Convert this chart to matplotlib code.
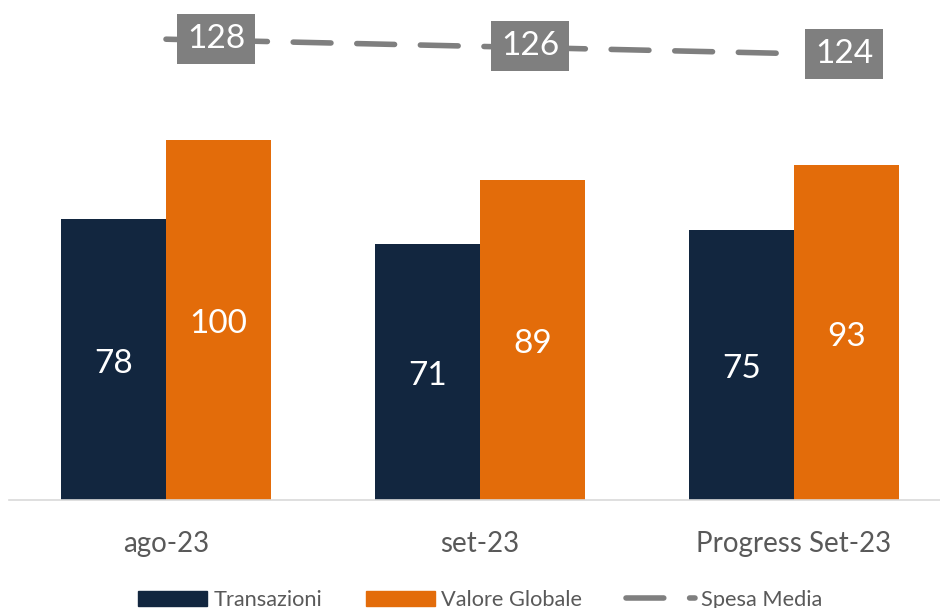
import matplotlib.pyplot as plt
import numpy as np
from matplotlib.lines import Line2D
from matplotlib.patches import Patch

# data
categories = ["ago-23", "set-23", "Progress Set-23"]
transazioni = [78, 71, 75]
valore_globale = [100, 89, 93]
spesa_media = [128, 126, 124]

navy = "#12263F"
orange = "#E36C0A"
grey = "#7F7F7F"
text_grey = "#595959"
dash = (6.8, 4.65)

plt.rcParams["font.family"] = ["Lato", "DejaVu Sans"]

fig = plt.figure(figsize=(9.4, 6.08), dpi=100)
# axes placed so the baseline sits at y=500px and categories are 314px apart
ax = fig.add_axes([9 / 940, 108 / 608, 942 / 940, 504 / 608])

x = np.arange(len(categories))
w = 1 / 3

ax.bar(x - w / 2, transazioni, w, color=navy)
ax.bar(x + w / 2, valore_globale, w, color=orange)
# value labels in the middle of each bar, a touch low like excel does
for xs, vals in [(x - w / 2, transazioni), (x + w / 2, valore_globale)]:
    for xi, v in zip(xs, vals):
        ax.annotate(str(v), (xi, v / 2), xytext=(0, -3), textcoords="offset points",
                    ha="center", va="center", color="white", fontsize=24)

line, = ax.plot(x, spesa_media, color=grey, lw=4, dash_capstyle="round", zorder=3)
line.set_dashes(dash)

for xi, v in zip(x, spesa_media):
    ax.annotate(str(v), (xi, v), xytext=(36, 0), textcoords="offset points",
                ha="center", va="center", color="white", fontsize=24,
                bbox=dict(boxstyle="square,pad=0.3", fc=grey, ec="none"),
                zorder=5)

ax.set_xlim(-0.5, 2.5)
ax.set_ylim(0, 140)
ax.set_xticks(x)
ax.set_xticklabels(categories, fontsize=20, color=text_grey)
ax.tick_params(axis="x", length=0, pad=22)
ax.set_yticks([])
for s in ["top", "right", "left"]:
    ax.spines[s].set_visible(False)
ax.spines["bottom"].set_color("#D9D9D9")
ax.spines["bottom"].set_linewidth(1.2)

# legend sits at the very bottom, partly clipped like the original
handles = [Patch(color=navy), Patch(color=orange),
           Line2D([0], [0], color=grey, lw=4, dashes=dash, dash_capstyle="round")]
fig.legend(handles, ["Transazioni", "Valore Globale", "Spesa Media"],
           loc="center", bbox_to_anchor=(0.511, 0.013), ncol=3, frameon=False,
           fontsize=15.7, labelcolor=text_grey, handlelength=3.15,
           handletextpad=0.3, columnspacing=2.0)

fig.savefig("out.png", dpi=100)
